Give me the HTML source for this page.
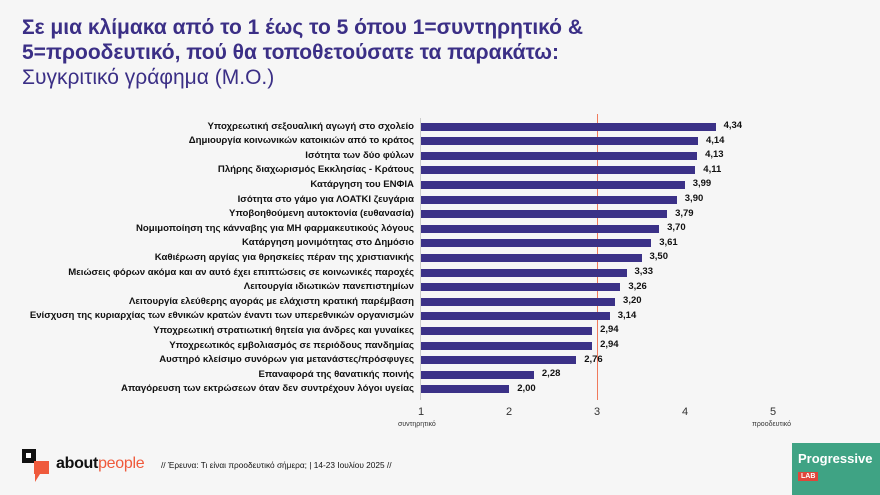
<!DOCTYPE html><html><head><meta charset="utf-8"><style>
body{margin:0;width:880px;height:495px;background:#f6f6f6;font-family:"Liberation Sans",sans-serif;position:relative;overflow:hidden}
.t{position:absolute;left:22px;color:#3b2f86;font-size:21px;line-height:24px}
.l{position:absolute;right:466px;font-size:9.6px;font-weight:bold;color:#111;white-space:nowrap;text-align:right}
.b{position:absolute;left:421px;height:8px;background:#3b3187}
.v{position:absolute;font-size:9.5px;font-weight:bold;color:#111}
.tk{position:absolute;top:406px;font-size:11px;color:#333;width:20px;text-align:center}
</style></head><body>
<div class="t" style="top:16px;font-weight:bold">Σε μια κλίμακα από το 1 έως το 5 όπου 1=συντηρητικό &amp;</div>
<div class="t" style="top:41px;font-weight:bold">5=προοδευτικό, πού θα τοποθετούσατε τα παρακάτω:</div>
<div class="t" style="top:66px">Συγκριτικό γράφημα (Μ.Ο.)</div>
<div style="position:absolute;left:420px;top:118px;width:1px;height:282px;background:#ccc"></div>
<div style="position:absolute;left:597px;top:114px;width:1px;height:286px;background:#f07a5c"></div>
<div id="c"></div>
<div class="tk" style="left:411px">1</div><div class="tk" style="left:499px">2</div><div class="tk" style="left:587px">3</div><div class="tk" style="left:675px">4</div><div class="tk" style="left:763px">5</div>
<div style="position:absolute;left:398px;top:421px;font-size:7px;color:#333">συντηρητικό</div>
<div style="position:absolute;left:752px;top:421px;font-size:7px;color:#333">προοδευτικό</div>
<div style="position:absolute;left:22px;top:449px;width:14px;height:14px;background:#111"></div>
<div style="position:absolute;left:26px;top:453px;width:5px;height:5px;background:#fff"></div>
<div style="position:absolute;left:34px;top:461px;width:15px;height:13px;background:#ef5a3c"></div>
<div style="position:absolute;left:35px;top:474px;width:0;height:0;border-left:5px solid #ef5a3c;border-bottom:8px solid transparent"></div>
<div style="position:absolute;left:56px;top:455px;font-size:16px;font-weight:bold;color:#111;letter-spacing:-0.3px">about<span style="color:#ef5a3c;font-weight:normal">people</span></div>
<div style="position:absolute;left:161px;top:460px;font-size:8.3px;color:#111">// Έρευνα: Τι είναι προοδευτικό σήμερα; | 14-23 Ιουλίου 2025 //</div>
<div style="position:absolute;left:792px;top:443px;width:88px;height:52px;background:#3fa384;color:#fff;font-weight:bold;font-size:13px;padding:8px 0 0 6px;box-sizing:border-box">Progressive<div style="background:#e0463a;font-size:7px;display:inline-block;padding:1px 3px;margin-top:2px">LAB</div></div>
<script>
var d=[["Υποχρεωτική σεξουαλική αγωγή στο σχολείο",4.34],["Δημιουργία κοινωνικών κατοικιών από το κράτος",4.14],["Ισότητα των δύο φύλων",4.13],["Πλήρης διαχωρισμός Εκκλησίας - Κράτους",4.11],["Κατάργηση του ΕΝΦΙΑ",3.99],["Ισότητα στο γάμο για ΛΟΑΤΚΙ ζευγάρια",3.90],["Υποβοηθούμενη αυτοκτονία (ευθανασία)",3.79],["Νομιμοποίηση της κάνναβης για ΜΗ φαρμακευτικούς λόγους",3.70],["Κατάργηση μονιμότητας στο Δημόσιο",3.61],["Καθιέρωση αργίας για θρησκείες πέραν της χριστιανικής",3.50],["Μειώσεις φόρων ακόμα και αν αυτό έχει επιπτώσεις σε κοινωνικές παροχές",3.33],["Λειτουργία ιδιωτικών πανεπιστημίων",3.26],["Λειτουργία ελεύθερης αγοράς με ελάχιστη κρατική παρέμβαση",3.20],["Ενίσχυση της κυριαρχίας των εθνικών κρατών έναντι των υπερεθνικών οργανισμών",3.14],["Υποχρεωτική στρατιωτική θητεία για άνδρες και γυναίκες",2.94],["Υποχρεωτικός εμβολιασμός σε περιόδους πανδημίας",2.94],["Αυστηρό κλείσιμο συνόρων για μετανάστες/πρόσφυγες",2.76],["Επαναφορά της θανατικής ποινής",2.28],["Απαγόρευση των εκτρώσεων όταν δεν συντρέχουν λόγοι υγείας",2.00]];
var h="";d.forEach(function(r,i){var y=126.5+i*14.6,w=(r[1]-1)*88.2;
h+='<div class="l" style="top:'+(y-6)+'px">'+r[0]+'</div><div class="b" style="top:'+(y-4)+'px;width:'+w+'px"></div><div class="v" style="top:'+(y-6.5)+'px;left:'+(421+w+8)+'px">'+r[1].toFixed(2).replace(".",",")+'</div>';});
document.getElementById("c").innerHTML=h;
</script>
</body></html>
